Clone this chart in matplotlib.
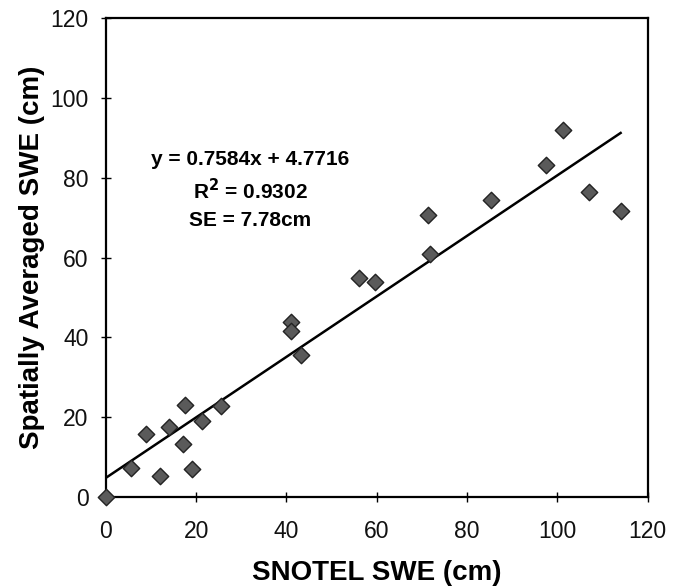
import numpy as np
import matplotlib.pyplot as plt

plt.rcParams['font.family'] = ['Liberation Sans', 'DejaVu Sans']

# SNOTEL vs spatially averaged SWE (cm)
snotel = [0, 5.5, 11.9, 9.0, 14.0, 17.1, 17.5, 19.0, 21.2, 25.4,
          40.9, 41.1, 43.2, 56.1, 59.5, 71.4, 71.8, 85.4, 97.5, 101.2,
          107.0, 114.0]
spatial = [0, 7.3, 5.2, 15.7, 17.6, 13.2, 23.0, 7.1, 19.1, 22.9,
           43.9, 41.6, 35.5, 54.9, 53.9, 70.6, 60.8, 74.3, 83.3, 92.0,
           76.4, 71.6]

slope = 0.7584
intercept = 4.7716
ticks = [0, 20, 40, 60, 80, 100, 120]

fig = plt.figure(figsize=(6.74, 5.86), dpi=100)
ax = fig.add_axes([0.157, 0.152, 0.804, 0.817])

ax.scatter(snotel, spatial, marker='D', s=70, color='#5a5a5a',
           edgecolors='#222222', linewidths=1.0, zorder=3, clip_on=False)

xs = np.array([0, max(snotel)])
ax.plot(xs, slope * xs + intercept, color='black', lw=1.8, zorder=2)

ax.text(32, 84.7, 'y = 0.7584x + 4.7716', ha='center', va='center',
        fontsize=15, fontweight='bold')
ax.text(32, 76.9, r'R$^{\mathbf{2}}$ = 0.9302', ha='center', va='center',
        fontsize=15, fontweight='bold')
ax.text(32, 69.2, 'SE = 7.78cm', ha='center', va='center',
        fontsize=15, fontweight='bold')

ax.set_xlim(0, 120)
ax.set_ylim(0, 120)
ax.set_xticks(ticks)
ax.set_yticks(ticks)
ax.tick_params(direction='inout', length=7, width=1, labelsize=16.5,
               labelcolor='#111111')
ax.tick_params(axis='x', pad=13)
ax.tick_params(axis='y', pad=9)
for s in ax.spines.values():
    s.set_linewidth(1.6)

ax.set_xlabel('SNOTEL SWE (cm)', fontsize=20, fontweight='bold', labelpad=12)
ax.set_ylabel('Spatially Averaged SWE (cm)', fontsize=20, fontweight='bold',
              labelpad=4)

fig.savefig('out.png', dpi=100)
